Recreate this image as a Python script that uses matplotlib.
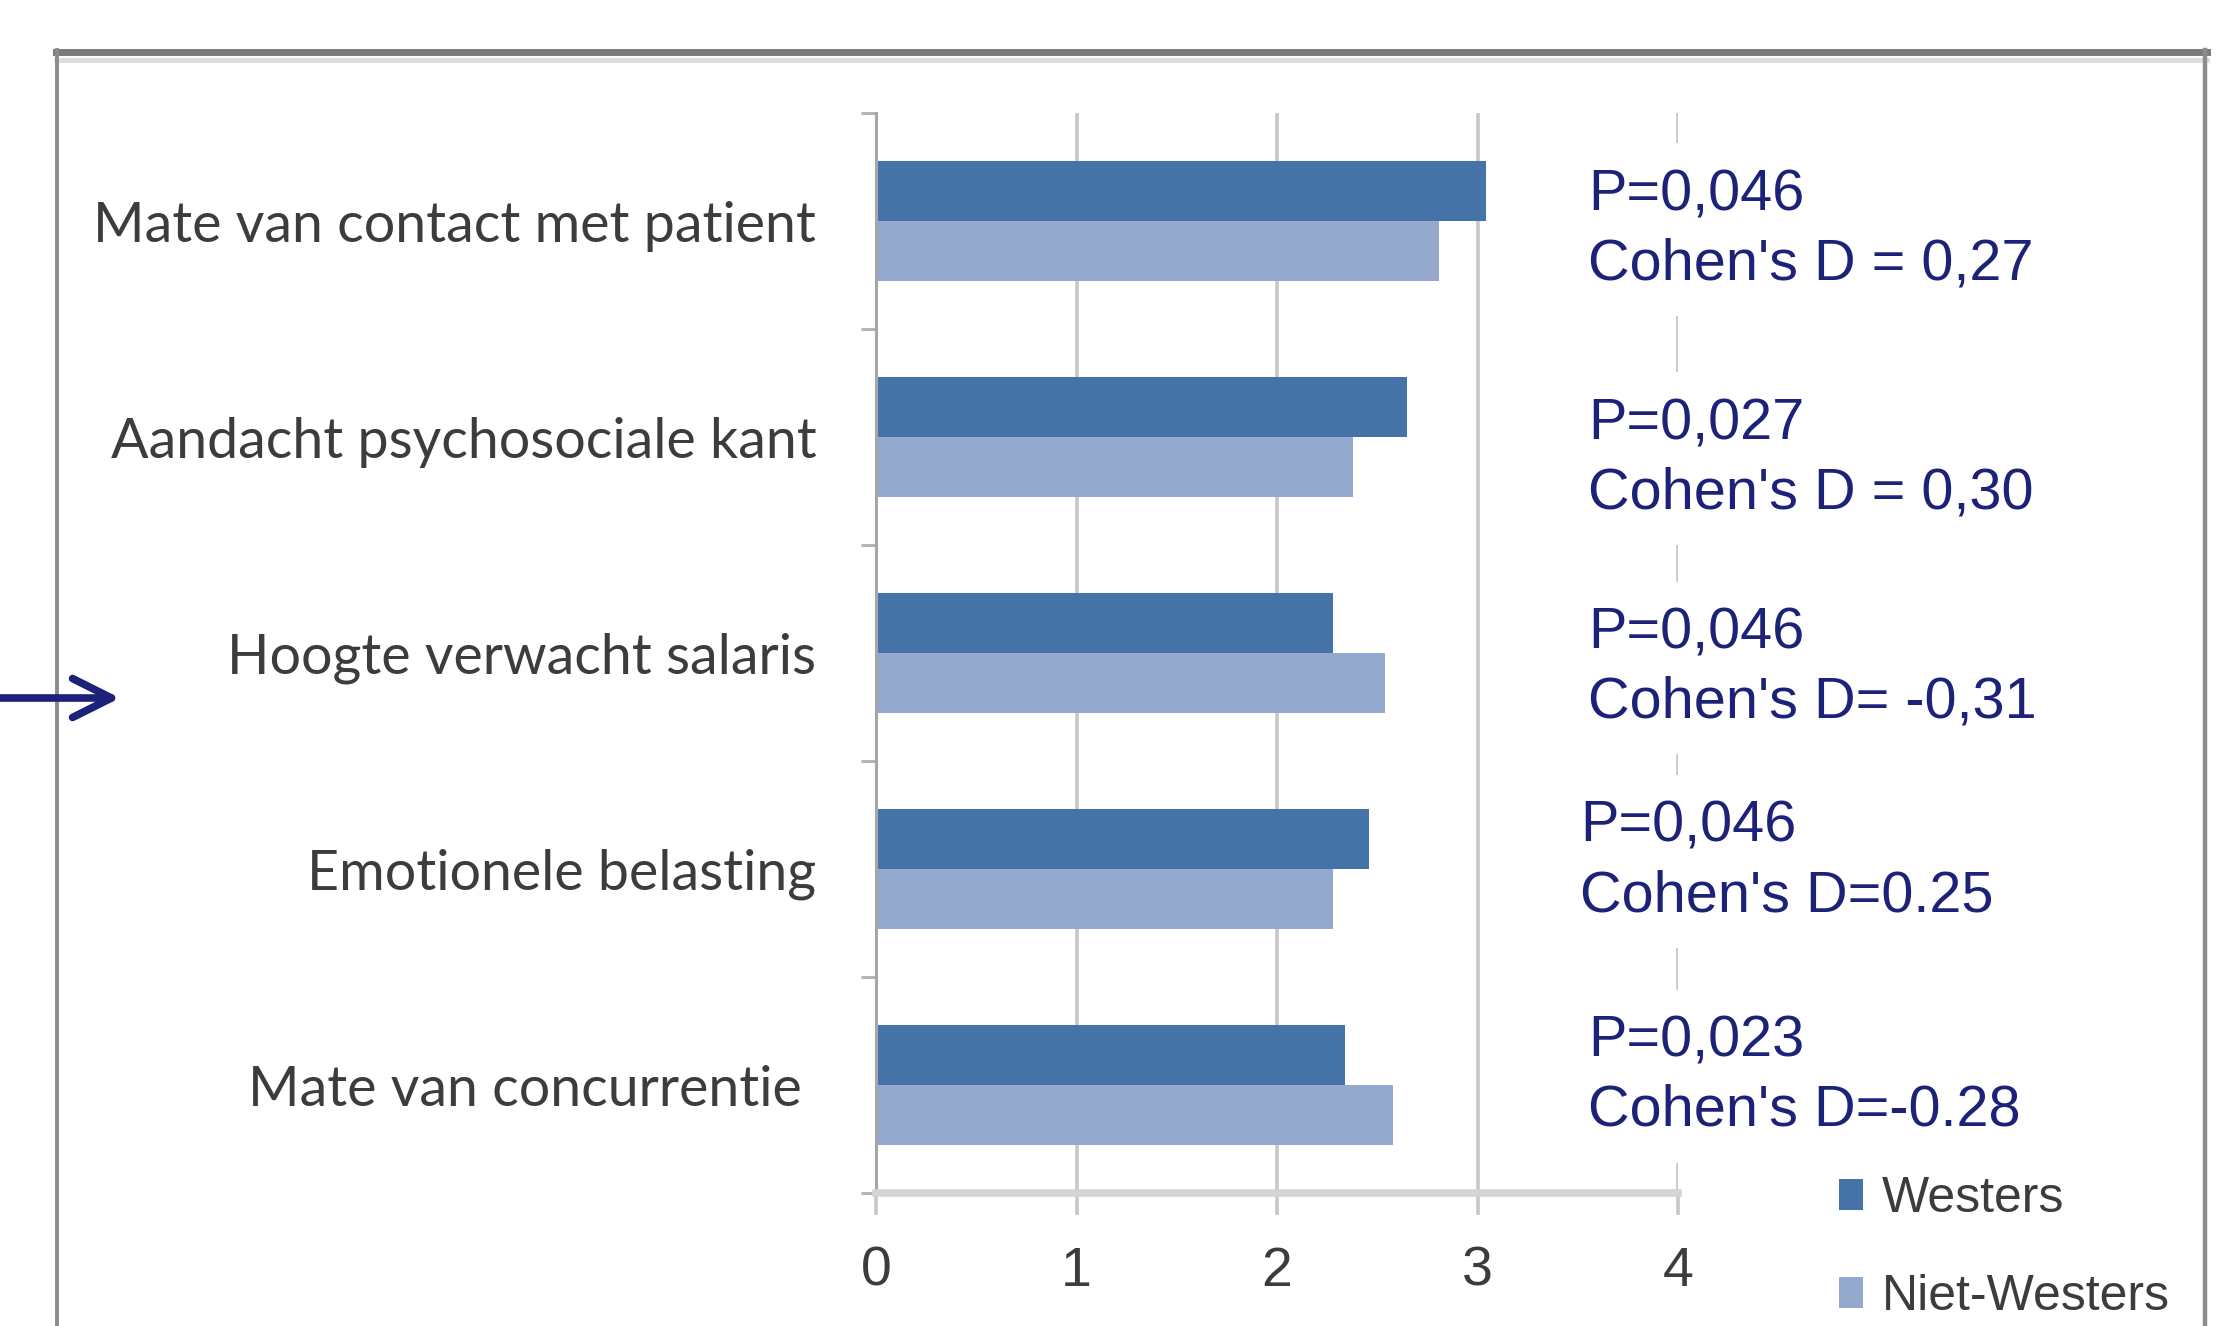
import numpy as np
import matplotlib
matplotlib.use("Agg")
import matplotlib.pyplot as plt
from matplotlib.lines import Line2D

# chart data
categories = ["Mate van contact met patient", "Aandacht psychosociale kant",
              "Hoogte verwacht salaris", "Emotionele belasting",
              "Mate van concurrentie "]
westers = [3.04, 2.65, 2.28, 2.46, 2.34]
niet_westers = [2.81, 2.38, 2.54, 2.28, 2.58]
series_names = ["Westers", "Niet-Westers"]
stat_labels = ["P=0,046\nCohen's D = 0,27",
               "P=0,027\nCohen's D = 0,30",
               "P=0,046\nCohen's D= -0,31",
               "P=0,046\nCohen's D=0.25",
               "P=0,023\nCohen's D=-0.28"]
x_ticks = [0, 1, 2, 3, 4]

# layout (pixels of the 2233x1326 output)
W, H = 2233, 1326
def fx(x):
    return x / W
def fy(y):
    return 1 - y / H

dark_blue = "#4572a7"
light_blue = "#95a9cf"
navy = "#1c2278"
text_grey = "#3c3c3c"
grid_grey = "#c8c8c8"

fig = plt.figure(figsize=(W / 100, H / 100), dpi=100)
ax = fig.add_axes([fx(876), fy(1193), fx(1678) - fx(876), fy(113) - fy(1193)])

y = np.arange(len(categories))
bar_h = 0.28
ax.barh(y - bar_h / 2, westers, height=bar_h, color=dark_blue, label=series_names[0], zorder=2)
ax.barh(y + bar_h / 2, niet_westers, height=bar_h, color=light_blue, label=series_names[1], zorder=2)

ax.set_xlim(0, 4)
ax.set_ylim(len(categories) - 0.5, -0.5)
ax.set_xticks(x_ticks)
ax.set_xticklabels([str(t) for t in x_ticks], fontsize=40, color=text_grey,
                   family="Liberation Sans")
ax.set_yticks(y)
ax.set_yticklabels(categories, fontsize=40, color=text_grey, family="Lato")
ax.set_yticks(np.arange(len(categories) + 1) - 0.5, minor=True)

ax.tick_params(axis="y", which="major", length=0, pad=43)
ax.tick_params(axis="y", which="minor", length=11, width=2, color="#b0b0b0")
ax.tick_params(axis="x", which="major", length=16, width=2.6, color=grid_grey, pad=22)

ax.grid(axis="x", color=grid_grey, linewidth=2.6, zorder=0)
ax.set_axisbelow(True)
for side in ["top", "right"]:
    ax.spines[side].set_visible(False)
ax.spines["left"].set_color("#a6a6a6")
ax.spines["left"].set_linewidth(2.2)
ax.spines["bottom"].set_color("#d4d4d4")
ax.spines["bottom"].set_linewidth(5.5)

# p-values and effect sizes next to the bars, white boxes hide the gridline at 4
text_dx = [3.55, 3.55, 3.55, 3.51, 3.55]
text_dy = [0.04, 0.10, 0.07, -0.035, -0.04]
for i, lab in enumerate(stat_labels):
    ax.text(text_dx[i], i + text_dy[i], lab, fontsize=41.5, color=navy,
            family="Liberation Sans", va="center", ha="left", zorder=5,
            linespacing=1.36,
            bbox=dict(facecolor="white", edgecolor="none", pad=18))

ax.legend(loc="upper left", bbox_to_anchor=(fx(1839), fy(1176)),
          bbox_transform=fig.transFigure, frameon=False,
          prop={"family": "Liberation Sans", "size": 36},
          labelcolor=text_grey, handlelength=0.48, handleheight=0.58,
          handletextpad=0.38, labelspacing=1.05, borderpad=0, borderaxespad=0)

# frame around the chart
fig.add_artist(Line2D([fx(56), fx(2207)], [fy(52), fy(52)], color="#7a7a7a", lw=5))
fig.add_artist(Line2D([fx(56), fx(2207)], [fy(60), fy(60)], color="#dcdcdc", lw=3.5))
fig.add_artist(Line2D([fx(57), fx(57)], [fy(50), 0], color="#8c8c8c", lw=2.8))
fig.add_artist(Line2D([fx(2205), fx(2205)], [fy(50), 0], color="#8c8c8c", lw=3.2))

# arrow pointing at the salary row
fig.add_artist(plt.Annotation("", xy=(fx(120), fy(698)), xytext=(0, fy(698)),
                              xycoords="figure fraction", textcoords="figure fraction",
                              arrowprops=dict(arrowstyle="->,head_length=28,head_width=14",
                                              mutation_scale=1, color=navy, lw=5.5,
                                              shrinkA=0, shrinkB=0)))

fig.savefig("out.png", dpi=100)
